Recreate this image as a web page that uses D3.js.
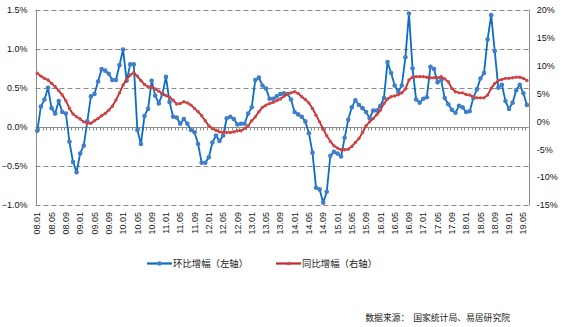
<!DOCTYPE html>
<html>
<head>
<meta charset="utf-8">
<script src="https://cdn.jsdelivr.net/npm/d3@7"></script>
<style>
  html, body { margin: 0; padding: 0; background: #fff; }
  svg { display: block; }
</style>
</head>
<body>
<svg id="chart" width="562" height="327"></svg>
<script>
// Month labels "YY.MM", 2008.01 – 2019.06
const startYear = 2008, monthCount = 138;
const months = d3.range(monthCount).map(i => {
  const y = startYear + Math.floor(i / 12), m = (i % 12) + 1;
  return String(y % 100).padStart(2, "0") + "." + String(m).padStart(2, "0");
});

// 环比增幅 (%), left axis
const momValues = [
  -0.05, 0.26, 0.35, 0.50, 0.24, 0.17, 0.33, 0.19, 0.17, -0.19, -0.45, -0.58,
  -0.34, -0.24, 0.07, 0.39, 0.42, 0.58, 0.74, 0.72, 0.68, 0.60, 0.60, 0.79,
  0.99, 0.59, 0.80, 0.80, -0.04, -0.22, 0.14, 0.23, 0.59, 0.40, 0.30, 0.42,
  0.64, 0.32, 0.13, 0.12, 0.04, 0.10, 0.04, -0.04, -0.07, -0.22, -0.46, -0.46,
  -0.39, -0.20, -0.11, -0.18, -0.11, 0.11, 0.13, 0.10, 0.03, 0.04, 0.04, 0.17,
  0.25, 0.60, 0.63, 0.53, 0.49, 0.36, 0.36, 0.39, 0.42, 0.43, 0.42, 0.35,
  0.19, 0.16, 0.13, 0.07, -0.08, -0.33, -0.78, -0.80, -0.97, -0.83, -0.37, -0.32,
  -0.34, -0.38, -0.14, 0.09, 0.25, 0.34, 0.28, 0.24, 0.19, 0.11, 0.21, 0.21,
  0.27, 0.37, 0.83, 0.69, 0.53, 0.45, 0.53, 0.89, 1.45, 0.75, 0.35, 0.31,
  0.36, 0.38, 0.77, 0.74, 0.57, 0.60, 0.37, 0.29, 0.22, 0.18, 0.27, 0.25,
  0.19, 0.20, 0.37, 0.48, 0.62, 0.69, 1.12, 1.43, 0.97, 0.50, 0.54, 0.33,
  0.23, 0.31, 0.47, 0.54, 0.43, 0.28
];

// 同比增幅 (%), right axis
const yoyValues = [
  8.6, 8.1, 7.7, 7.4, 6.8, 6.2, 5.5, 4.7, 3.7, 2.3, 1.3, 0.8,
  0.4, -0.1, -0.35, -0.35, 0.1, 0.5, 1.0, 1.4, 2.0, 2.7, 3.8, 5.1,
  6.5, 7.5, 8.3, 8.7, 8.1, 7.3, 6.6, 6.2, 6.1, 5.8, 5.4, 5.0,
  4.6, 4.3, 3.8, 3.1, 3.2, 3.5, 3.3, 2.9, 2.3, 1.7, 1.0, 0.1,
  -0.8, -1.3, -1.6, -1.9, -2.0, -2.0, -2.0, -1.9, -1.7, -1.7, -1.3, -0.8,
  0.1, 0.8, 1.7, 2.5, 2.9, 3.2, 3.4, 3.7, 4.0, 4.5, 4.9, 5.1,
  5.3, 5.0, 4.4, 3.9, 3.3, 2.3, 1.1, -0.1, -1.4, -2.6, -3.6, -4.4,
  -4.8, -5.1, -5.1, -5.0, -4.5, -3.8, -3.1, -2.0, -0.8, -0.1, 0.5, 1.2,
  2.0, 3.2, 4.0, 4.4, 4.55, 4.75, 5.1, 5.8, 7.4, 7.9, 8.0, 8.0,
  8.0, 7.9, 7.8, 7.8, 7.8, 8.0, 7.6, 7.1, 5.9, 5.3, 5.1, 5.1,
  4.8, 4.7, 4.4, 4.2, 4.2, 4.2, 4.7, 5.9, 6.8, 7.3, 7.5, 7.7,
  7.7, 7.8, 7.9, 7.9, 7.7, 7.3
];

const leftTicks = [-1.0, -0.5, 0.0, 0.5, 1.0, 1.5];
const rightTicks = [-15, -10, -5, 0, 5, 10, 15, 20];
const xTickLabels = months.filter((m, i) => i % 4 === 0 && i <= 136);

const seriesNames = ["环比增幅（左轴）", "同比增幅（右轴）"];
const sourceText = "数据来源：  国家统计局、易居研究院";

const BLUE = "#0A6CC4", BLUE_MK = "#3F7FC9";
const RED = "#C0282A", RED_MK = "#CF4646";
const GRID = "#8C8C8C";

const svg = d3.select("#chart");
const plot = { left: 35.5, right: 528.7, top: 9.7, bottom: 205 };

const x = d3.scaleBand().domain(months).range([plot.left, plot.right]).padding(0);
const cx = m => x(m) + x.bandwidth() / 2;
const yL = d3.scaleLinear().domain([-1.0, 1.5]).range([plot.bottom, plot.top]);
const yR = d3.scaleLinear().domain([-15, 20]).range([plot.bottom, plot.top]);

// horizontal grid (dashed), zero line solid
svg.append("g").selectAll("line")
  .data(leftTicks.filter(v => v !== 0))
  .join("line")
  .attr("x1", plot.left).attr("x2", plot.right)
  .attr("y1", d => Math.round(yL(d)) + 0.5).attr("y2", d => Math.round(yL(d)) + 0.5)
  .attr("stroke", GRID).attr("stroke-width", 1)
  .attr("stroke-dasharray", "5,3");

// side axes
svg.append("line")
  .attr("x1", Math.round(plot.left) + 0.5).attr("x2", Math.round(plot.left) + 0.5)
  .attr("y1", plot.top).attr("y2", plot.bottom + 0.5)
  .attr("stroke", GRID).attr("stroke-width", 1);
svg.append("line")
  .attr("x1", Math.round(plot.right) + 0.5).attr("x2", Math.round(plot.right) + 0.5)
  .attr("y1", plot.top).attr("y2", plot.bottom + 0.5)
  .attr("stroke", GRID).attr("stroke-width", 1);

// zero line with monthly tick marks
const zeroY = Math.round(yL(0)) + 0.5;
svg.append("line")
  .attr("x1", plot.left).attr("x2", plot.right)
  .attr("y1", zeroY).attr("y2", zeroY)
  .attr("stroke", GRID).attr("stroke-width", 1);
svg.append("g").selectAll("line")
  .data(months.slice(1))
  .join("line")
  .attr("x1", d => Math.round(x(d)) + 0.5).attr("x2", d => Math.round(x(d)) + 0.5)
  .attr("y1", zeroY).attr("y2", zeroY + 3)
  .attr("stroke", GRID).attr("stroke-width", 1);

// left axis labels
const axL = svg.append("g")
  .attr("transform", `translate(${plot.left},0)`)
  .call(d3.axisLeft(yL).tickValues(leftTicks).tickSize(0).tickPadding(8)
    .tickFormat(d => d3.format(".1f")(d) + "%"));
axL.select(".domain").remove();
axL.selectAll("text")
  .attr("font-family", "'Liberation Sans', Arial, sans-serif")
  .attr("font-size", 9).attr("fill", "#111");

// right axis labels
const axR = svg.append("g")
  .attr("transform", `translate(${plot.right},0)`)
  .call(d3.axisRight(yR).tickValues(rightTicks).tickSize(0).tickPadding(8)
    .tickFormat(d => d + "%"));
axR.select(".domain").remove();
axR.selectAll("text")
  .attr("font-family", "'Liberation Sans', Arial, sans-serif")
  .attr("font-size", 9).attr("fill", "#111");

// month labels along the bottom, rotated
const axX = svg.append("g")
  .attr("transform", `translate(0,${plot.bottom})`)
  .call(d3.axisBottom(x).tickValues(xTickLabels).tickSize(0).tickPadding(0));
axX.select(".domain").remove();
axX.selectAll("text")
  .attr("font-family", "'Liberation Sans', Arial, sans-serif")
  .attr("font-size", 9).attr("fill", "#1a1a1a")
  .attr("text-anchor", "end")
  .attr("dy", "0.35em")
  .attr("transform", "translate(0,7) rotate(-90)")
  .attr("x", 0).attr("y", 0);

// series lines
const momData = months.map((m, i) => ({ m, v: momValues[i] }));
const yoyData = months.map((m, i) => ({ m, v: yoyValues[i] }));

svg.append("path")
  .datum(momData)
  .attr("fill", "none").attr("stroke", BLUE).attr("stroke-width", 1.8)
  .attr("stroke-linejoin", "round")
  .attr("d", d3.line().x(d => cx(d.m)).y(d => yL(d.v)));
svg.append("g").selectAll("circle")
  .data(momData).join("circle")
  .attr("cx", d => cx(d.m)).attr("cy", d => yL(d.v))
  .attr("r", 2.3).attr("fill", BLUE_MK);

svg.append("path")
  .datum(yoyData)
  .attr("fill", "none").attr("stroke", RED).attr("stroke-width", 1.8)
  .attr("stroke-linejoin", "round")
  .attr("d", d3.line().x(d => cx(d.m)).y(d => yR(d.v)));
svg.append("g").selectAll("circle")
  .data(yoyData).join("circle")
  .attr("cx", d => cx(d.m)).attr("cy", d => yR(d.v))
  .attr("r", 1.7).attr("fill", RED_MK);

// legend
const legend = svg.append("g").attr("font-family", "'Noto Sans CJK SC', sans-serif");
const legendItems = [
  { name: seriesNames[0], x0: 147, color: BLUE, mk: BLUE_MK, r: 2.3 },
  { name: seriesNames[1], x0: 276, color: RED, mk: RED_MK, r: 1.7 }
];
legendItems.forEach(it => {
  legend.append("line")
    .attr("x1", it.x0).attr("x2", it.x0 + 25).attr("y1", 263.5).attr("y2", 263.5)
    .attr("stroke", it.color).attr("stroke-width", 2.2);
  legend.append("circle").attr("cx", it.x0 + 12.5).attr("cy", 263.5)
    .attr("r", it.r).attr("fill", it.mk);
  legend.append("text")
    .attr("x", it.x0 + 26).attr("y", 263.5).attr("dy", "0.35em")
    .attr("font-size", 9.4).attr("fill", "#222")
    .text(it.name);
});

// source note
svg.append("text")
  .attr("x", 510).attr("y", 318).attr("dy", "0.35em")
  .attr("text-anchor", "end")
  .attr("font-family", "'Noto Sans CJK SC', sans-serif")
  .attr("font-size", 8.8).attr("fill", "#222")
  .attr("xml:space", "preserve")
  .text(sourceText);
</script>
</body>
</html>
